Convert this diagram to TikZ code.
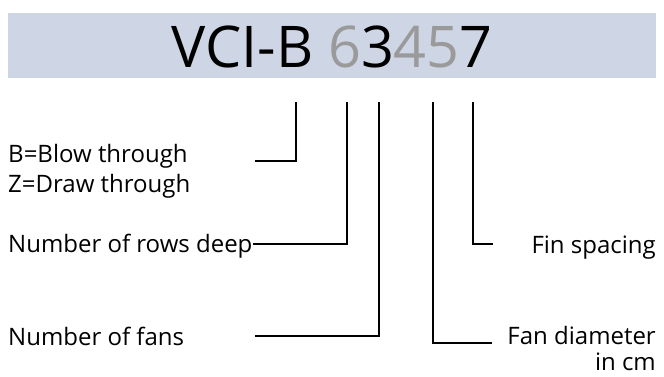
\documentclass[tikz,border=0pt]{standalone}
\usepackage{fontspec}
\setmainfont{Open Sans}
\definecolor{bannerblue}{HTML}{CED5E5}
\definecolor{digitgray}{HTML}{9A9A9A}
\begin{document}
\begin{tikzpicture}[x=1pt,y=-1pt,
  lbl/.style={inner sep=0pt,font=\fontsize{24}{28}\selectfont},
  conn/.style={line width=1.7pt,line join=miter}]
\useasboundingbox (0,0) rectangle (664,376);
\fill[bannerblue] (8,13) rectangle (656,78);
\node[inner sep=0pt,anchor=base,font=\fontsize{57.5}{62}\selectfont] (title) at (332,67)
  {VCI-B \textcolor{digitgray}{6}3\textcolor{digitgray}{45}7};
% labels
\node[lbl,anchor=base west] (blow) at (8,162) {B=Blow through};
\node[lbl,anchor=base west] (draw) at (8,192) {Z=Draw through};
\node[lbl,anchor=base west] (rows) at (8,252) {Number of rows deep};
\node[lbl,anchor=base west] (fans) at (8,345) {Number of fans};
\node[lbl,anchor=base east] (fin) at (656,253) {Fin spacing};
\node[lbl,anchor=base east] (dia) at (656,344) {Fan diameter};
\node[lbl,anchor=base east] (cm) at (656,370.5) {in cm};
% connector tops
\coordinate (t1) at (296,102);
\coordinate (t2) at (347,102);
\coordinate (t3) at (379,102);
\coordinate (t4) at (433,102);
\coordinate (t5) at (473,102);
% connector ends
\coordinate (e1) at (255,161);
\coordinate (e2) at (rows.east |- 0,244);
\coordinate (e3) at (255,336);
\coordinate (e4) at (492,343);
\coordinate (e5) at (493,244);
\draw[conn] (t1) |- (e1);
\draw[conn] (t2) |- (e2);
\draw[conn] (t3) |- (e3);
\draw[conn] (t4) |- (e4);
\draw[conn] (t5) |- (e5);
\end{tikzpicture}
\end{document}
